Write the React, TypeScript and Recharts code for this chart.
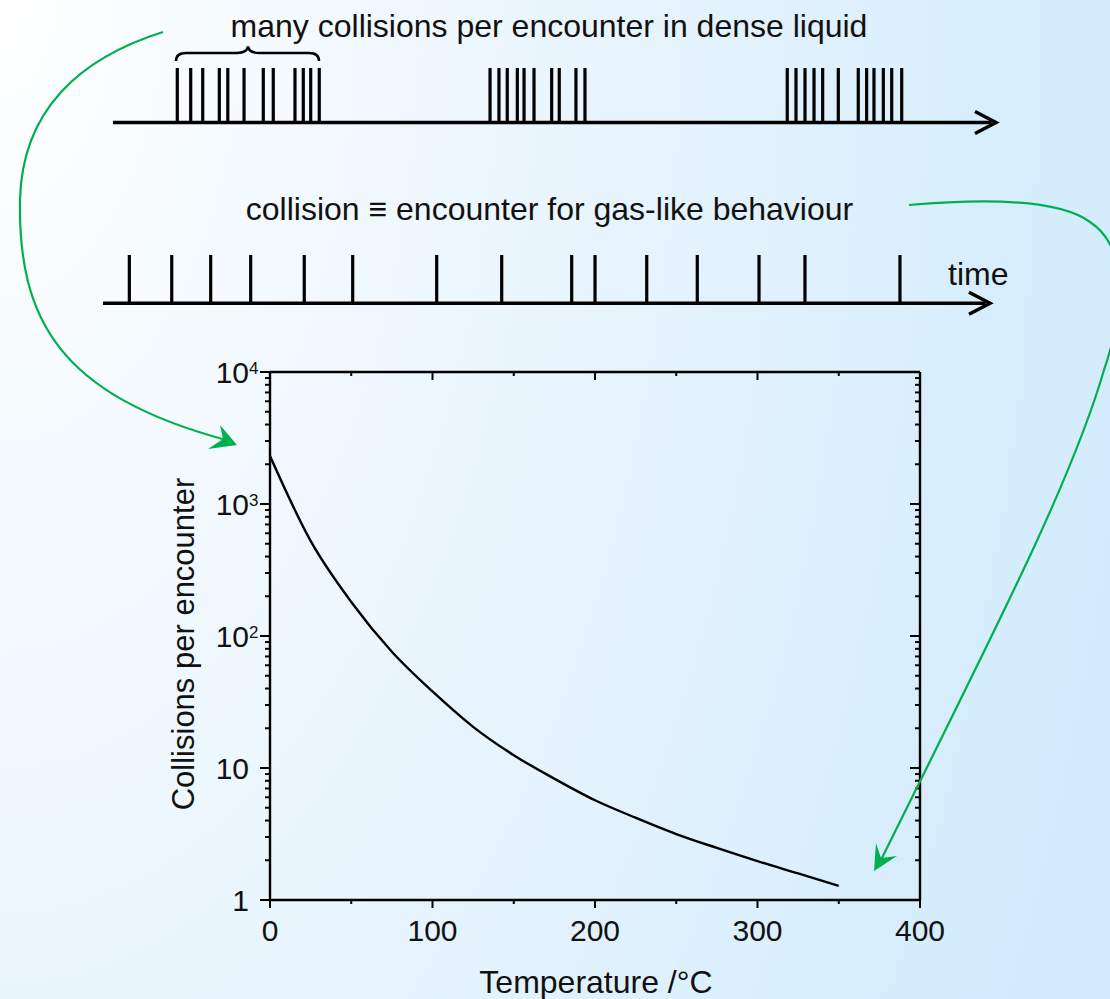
import React from 'react';
import { ComposedChart, Line, XAxis, YAxis, ReferenceLine, ReferenceDot } from 'recharts';

// ---- data ----
const temperatures = [0, 25, 50, 75, 100, 125, 150, 175, 200, 225, 250, 275, 300, 325, 350];
const collisionsPerEncounter = [2310, 525, 181, 76, 38, 20.5, 12.5, 8.3, 5.7, 4.2, 3.16, 2.48, 1.97, 1.59, 1.28];

const xTicks = [0, 50, 100, 150, 200, 250, 300, 350, 400];
const xMajorTicks = [0, 100, 200, 300, 400];
const yTicks = [
  1, 2, 3, 4, 5, 6, 7, 8, 9,
  10, 20, 30, 40, 50, 60, 70, 80, 90,
  100, 200, 300, 400, 500, 600, 700, 800, 900,
  1000, 2000, 3000, 4000, 5000, 6000, 7000, 8000, 9000,
  10000,
];
const yDecades = [1, 10, 100, 1000, 10000];
const yDecadeBase = ['1', '10', '10', '10', '10'];
const yDecadeExp = ['', '', '2', '3', '4'];

// collision event times (arbitrary time units, 0..100 along each time axis)
const liquidCollisionTimes = [
  7.28, 8.8, 10.16, 12.04, 13.0, 14.84, 17.02, 18.15, 20.61, 21.55, 22.39, 23.36,
  42.7, 43.71, 44.65, 45.79, 46.55, 47.68, 49.68, 50.54, 52.43, 53.45,
  76.36, 77.35, 78.37, 79.39, 80.37, 82.14, 84.4, 85.35, 86.18, 87.24, 88.19, 89.32,
];
const gasCollisionTimes = [
  2.97, 7.75, 12.14, 16.65, 22.69, 28.15, 37.62, 44.95, 52.84, 55.47, 61.3, 67.0, 73.96, 79.14, 89.85,
];

const titleTop = 'many collisions per encounter in dense liquid';
const titleMiddle = 'collision \u2261 encounter for gas-like behaviour';
const timeLabel = 'time';
const xTitle = 'Temperature /\u00B0C';
const yTitle = 'Collisions per encounter';

const FONT = '"Liberation Sans", Arial, Helvetica, sans-serif';
const W = 1110;
const H = 999;

const chartData = temperatures.map((t, i) => ({ t, c: collisionsPerEncounter[i] }));

const decadeIndex = (v: number) => yDecades.indexOf(v);

function LeftTick(props: any) {
  const { x, y, payload } = props;
  const v = payload.value;
  const di = decadeIndex(v);
  const major = di >= 0;
  return (
    <g>
      <line x1={x} x2={x - (major ? 10 : 5)} y1={y} y2={y} stroke="#000" strokeWidth={2} />
      {major && (
        <text x={x - 21} y={y + 11} textAnchor="end" fontFamily={FONT} fontSize={30} fill="#111">
          {yDecadeBase[di]}
        </text>
      )}
      {major && yDecadeExp[di] && (
        <text x={x - 21} y={y + 1.5} textAnchor="start" fontFamily={FONT} fontSize={17} fill="#111">
          {yDecadeExp[di]}
        </text>
      )}
    </g>
  );
}

function RightTick(props: any) {
  const { x, y, payload } = props;
  const major = decadeIndex(payload.value) >= 0;
  return <line x1={x} x2={x - (major ? 10 : 5)} y1={y} y2={y} stroke="#000" strokeWidth={2} />;
}

function BottomTick(props: any) {
  const { x, y, payload } = props;
  const major = xMajorTicks.indexOf(payload.value) >= 0;
  return (
    <g>
      <line x1={x} x2={x} y1={y} y2={y + (major ? 8 : 4)} stroke="#000" strokeWidth={2} />
      {major && (
        <text x={x} y={y + 41} textAnchor="middle" fontFamily={FONT} fontSize={30} fill="#111">
          {String(payload.value)}
        </text>
      )}
    </g>
  );
}

function TopTick(props: any) {
  const { x, y, payload } = props;
  const major = xMajorTicks.indexOf(payload.value) >= 0;
  return <line x1={x} x2={x} y1={y} y2={y + (major ? 8 : 4)} stroke="#000" strokeWidth={2} />;
}

function Chevron(props: any) {
  const { cx, cy } = props;
  return (
    <polyline
      points={`${cx - 21},${cy - 11} ${cx},${cy} ${cx - 21},${cy + 11}`}
      fill="none"
      stroke="#000"
      strokeWidth={3.5}
    />
  );
}

function Timeline({ times, top, base, left, end }: { times: number[]; top: number; base: number; left: number; end: number }) {
  const data = times.map((t) => ({ t, y: 0 }));
  return (
    <div style={{ position: 'absolute', left: 0, top: 0, width: W, height: H }}>
      <ComposedChart width={W} height={H} data={data} margin={{ top, bottom: H - base, left, right: W - end }}>
        <XAxis type="number" dataKey="t" domain={[0, 100]} hide allowDataOverflow />
        <YAxis type="number" domain={[0, 1]} hide allowDataOverflow />
        <ReferenceLine segment={[{ x: 0, y: 0 }, { x: 99.5, y: 0 }]} stroke="#000" strokeWidth={3.5} />
        {times.map((t, i) => (
          <ReferenceLine key={i} segment={[{ x: t, y: 0 }, { x: t, y: 1 }]} stroke="#000" strokeWidth={3.2} />
        ))}
        <ReferenceDot x={100} y={0} r={1} shape={Chevron} />
      </ComposedChart>
    </div>
  );
}

const axisLineStyle = { stroke: '#000', strokeWidth: 2.4 };

export default function App() {
  return (
    <div
      style={{
        position: 'absolute',
        left: 0,
        top: 0,
        width: W,
        height: H,
        overflow: 'hidden',
        background: 'radial-gradient(ellipse 1150px 2100px at 0px 0px, #ffffff 0%, #d2ebfc 100%)',
      }}
    >
      <div style={{ position: 'absolute', left: 0, top: 0, width: W, height: H }}>
        <ComposedChart width={W} height={H} data={chartData} margin={{ top: 371, bottom: 39, left: 210, right: 189 }}>
          <XAxis
            xAxisId="b"
            type="number"
            dataKey="t"
            domain={[0, 400]}
            ticks={xTicks}
            interval={0}
            allowDataOverflow
            height={60}
            tickSize={0}
            tickMargin={0}
            tickLine={false}
            tick={<BottomTick />}
            stroke="#000"
            strokeWidth={2.4}
            axisLine={axisLineStyle}
          />
          <XAxis
            xAxisId="t"
            orientation="top"
            type="number"
            dataKey="t"
            domain={[0, 400]}
            ticks={xTicks}
            interval={0}
            allowDataOverflow
            height={1}
            tickSize={0}
            tickMargin={0}
            tickLine={false}
            tick={<TopTick />}
            stroke="#000"
            strokeWidth={2.4}
            axisLine={axisLineStyle}
          />
          <YAxis
            yAxisId="l"
            type="number"
            scale="log"
            domain={[1, 10000]}
            ticks={yTicks}
            interval={0}
            allowDataOverflow
            width={60}
            tickSize={0}
            tickMargin={0}
            tickLine={false}
            tick={<LeftTick />}
            stroke="#000"
            strokeWidth={2.4}
            axisLine={axisLineStyle}
          />
          <YAxis
            yAxisId="r"
            orientation="right"
            type="number"
            scale="log"
            domain={[1, 10000]}
            ticks={yTicks}
            interval={0}
            allowDataOverflow
            width={1}
            tickSize={0}
            tickMargin={0}
            tickLine={false}
            tick={<RightTick />}
            stroke="#000"
            strokeWidth={2.4}
            axisLine={axisLineStyle}
          />
          <Line
            xAxisId="t"
            yAxisId="r"
            type="monotone"
            dataKey="c"
            stroke="none"
            strokeWidth={0}
            dot={false}
            activeDot={false}
            legendType="none"
            isAnimationActive={false}
          />
          <Line
            xAxisId="b"
            yAxisId="l"
            type="monotone"
            dataKey="c"
            stroke="#000"
            strokeWidth={2.4}
            dot={false}
            isAnimationActive={false}
          />
        </ComposedChart>
      </div>

      <Timeline times={liquidCollisionTimes} top={68} base={122.5} left={113} end={996} />
      <Timeline times={gasCollisionTimes} top={255} base={303.3} left={103} end={990} />

      <svg width={W} height={H} style={{ position: 'absolute', left: 0, top: 0, pointerEvents: 'none' }}>
        <text x={549} y={37} textAnchor="middle" fontFamily={FONT} fontSize={32} fill="#111">{titleTop}</text>
        <text x={549.5} y={220} textAnchor="middle" fontFamily={FONT} fontSize={32} fill="#111">{titleMiddle}</text>
        <text x={948} y={285} textAnchor="start" fontFamily={FONT} fontSize={32} fill="#111">{timeLabel}</text>
        <text x={596} y={993} textAnchor="middle" fontFamily={FONT} fontSize={32} fill="#111">{xTitle}</text>
        <text
          x={194}
          y={644}
          textAnchor="middle"
          fontFamily={FONT}
          fontSize={31}
          fill="#111"
          transform="rotate(-90 194 644)"
        >
          {yTitle}
        </text>
        {/* brace */}
        <path
          d="M176,61 Q176,53 186,53 L237,53 Q247,53 248,46.5 Q249,53 259,53 L309,53 Q319,53 319,61"
          fill="none"
          stroke="#000"
          strokeWidth={2.5}
        />
        {/* green arrows */}
        <path d="M163,32 C80,58 22,110 20,200 C18,320 60,395 226,440" fill="none" stroke="#00b050" strokeWidth={2.2} />
        <polygon points="237,445 220,425 223,439 208,449" fill="#00b050" />
        <path
          d="M909,205 C990,198 1060,200 1090,222 C1125,245 1128,300 1104,370 C1072,480 1000,620 880,862"
          fill="none"
          stroke="#00b050"
          strokeWidth={2.2}
        />
        <polygon points="874,871 876,843 881,858 897,856" fill="#00b050" />
      </svg>
    </div>
  );
}
